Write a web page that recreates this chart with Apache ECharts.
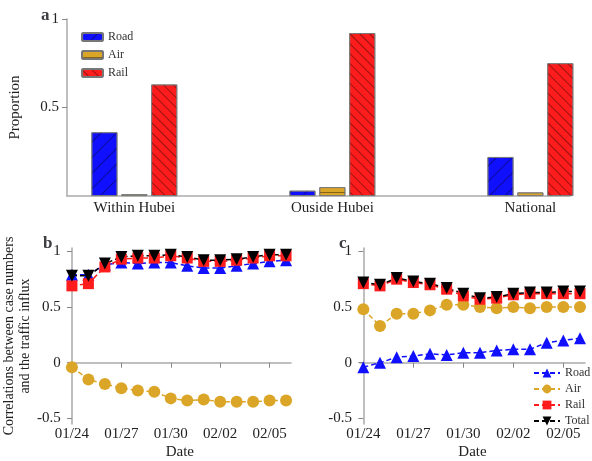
<!DOCTYPE html>
<html><head><meta charset="utf-8">
<script src="https://cdn.jsdelivr.net/npm/echarts@6/dist/echarts.min.js"></script>
<style>body{margin:0}#c{width:592px;height:461px}</style>
</head><body><div id="c"></div>
<script>
var regions = ['Within Hubei', 'Ouside Hubei', 'National'];
var shareRoad = [0.36, 0.03, 0.22];
var shareAir = [0.01, 0.05, 0.02];
var shareRail = [0.63, 0.92, 0.75];

var dates = ['01/24','01/25','01/26','01/27','01/28','01/29','01/30','01/31','02/01','02/02','02/03','02/04','02/05','02/06'];
var hbRoad = [0.79,0.79,0.88,0.90,0.89,0.90,0.90,0.87,0.85,0.85,0.87,0.89,0.91,0.92];
var hbAir = [-0.04,-0.15,-0.19,-0.23,-0.25,-0.26,-0.32,-0.34,-0.33,-0.35,-0.35,-0.35,-0.34,-0.34];
var hbRail = [0.69,0.71,0.86,0.93,0.94,0.94,0.96,0.94,0.91,0.91,0.92,0.94,0.96,0.96];
var hbTotal = [0.78,0.78,0.89,0.95,0.96,0.96,0.97,0.95,0.92,0.92,0.93,0.95,0.97,0.97];
var naRoad = [-0.04,0.00,0.05,0.06,0.08,0.07,0.09,0.09,0.11,0.12,0.12,0.18,0.20,0.22];
var naAir = [0.48,0.33,0.44,0.44,0.47,0.52,0.52,0.50,0.49,0.50,0.49,0.50,0.50,0.50];
var naRail = [0.71,0.69,0.75,0.72,0.70,0.66,0.60,0.57,0.58,0.61,0.62,0.62,0.62,0.62];
var naTotal = [0.72,0.70,0.76,0.73,0.71,0.67,0.62,0.58,0.59,0.62,0.63,0.63,0.64,0.64];

var font = 'Liberation Serif';
var blue = '#1010ff', gold = '#dba628', red = '#ff1c1c';

function pairs(arr) { return arr.map(function (v, i) { return [i, v]; }); }

function hatch(rot, gap) {
    return { symbol: 'rect', symbolSize: 1, dashArrayX: [1, 0], dashArrayY: [1, gap], rotation: rot, color: 'rgba(0,0,0,0.4)' };
}

var axisLine = { lineStyle: { color: '#aaa', width: 1.5 } };
var yCorr = {
    type: 'value', min: -0.55, max: 1.03,
    axisLine: { show: true, lineStyle: { color: '#aaa', width: 1.5 } },
    axisTick: { show: true, customValues: [-0.5, 0, 0.5, 1], lineStyle: { color: '#888' } },
    axisLabel: { customValues: [-0.5, 0, 0.5, 1], color: '#222', fontFamily: font, fontSize: 15 },
    splitLine: { show: false }
};
function xDate(idx) {
    return {
        type: 'value', gridIndex: idx, min: -0.2, max: 13.3,
        name: 'Date', nameLocation: 'middle', nameGap: 21,
        nameTextStyle: { color: '#222', fontFamily: font, fontSize: 15 },
        axisLine: axisLine,
        axisTick: { customValues: [0, 3, 6, 9, 12], lineStyle: { color: '#888' } },
        axisLabel: { customValues: [0, 3, 6, 9, 12], color: '#222', fontFamily: font, fontSize: 15, margin: 3,
            formatter: function (v) { return dates[v]; } },
        splitLine: { show: false }
    };
}
function line(name, data, color, sym, g, rot) {
    return {
        name: name, type: 'line', xAxisIndex: g, yAxisIndex: g, data: pairs(data),
        symbol: sym, symbolSize: sym === 'rect' ? 11 : 12, symbolRotate: rot || 0,
        lineStyle: { color: color, type: [5, 3], width: 1.5 },
        itemStyle: { color: color }
    };
}
function bar(name, data, color, decal) {
    return {
        name: name, type: 'bar', xAxisIndex: 0, yAxisIndex: 0, barWidth: 26, barGap: '15%',
        data: data.map(function (v, i) { return [i + 1, v]; }),
        itemStyle: { color: color, borderColor: '#777', borderWidth: 0.8, decal: decal }
    };
}

var chart = echarts.init(document.getElementById('c'));
chart.setOption({
    animation: false,
    textStyle: { fontFamily: font },
    title: [
        { text: 'a', left: 36, top: 2, textStyle: { fontFamily: font, fontSize: 17, fontWeight: 'bold' } },
        { text: 'b', left: 38, top: 230, textStyle: { fontFamily: font, fontSize: 17, fontWeight: 'bold' } },
        { text: 'c', left: 334, top: 230, textStyle: { fontFamily: font, fontSize: 17, fontWeight: 'bold' } }
    ],
    grid: [
        { left: 67, right: 22, top: 19, bottom: 265 },
        { left: 67, right: 301, top: 248, bottom: 37 },
        { left: 360, right: 7, top: 248, bottom: 37 }
    ],
    legend: [
        { data: ['Road', 'Air', 'Rail'], orient: 'vertical', left: 76, top: 26, itemWidth: 21, itemHeight: 8, itemGap: 6,
          textStyle: { fontFamily: font, fontSize: 12, color: '#333' } },
        { data: ['Road ', 'Air ', 'Rail ', 'Total'], orient: 'vertical', left: 528, top: 362, itemWidth: 26, itemHeight: 11, itemGap: 4,
          textStyle: { fontFamily: font, fontSize: 12, color: '#333' } }
    ],
    xAxis: [
        { type: 'value', gridIndex: 0, min: 0.66, max: 3.2,
          axisLine: axisLine, axisTick: { show: false },
          axisLabel: { customValues: [1, 2, 3], color: '#222', fontFamily: font, fontSize: 15, margin: 5,
              formatter: function (v) { return regions[v - 1]; } },
          splitLine: { show: false } },
        xDate(1), xDate(2)
    ],
    yAxis: [
        { type: 'value', gridIndex: 0, min: 0, max: 1,
          name: 'Proportion', nameLocation: 'middle', nameGap: 44,
          nameTextStyle: { color: '#222', fontFamily: font, fontSize: 15 },
          axisLine: { show: true, lineStyle: { color: '#aaa', width: 1.5 } },
          axisTick: { show: true, customValues: [0.5, 1], lineStyle: { color: '#888' } },
          axisLabel: { customValues: [0.5, 1], color: '#222', fontFamily: font, fontSize: 15 },
          splitLine: { show: false } },
        Object.assign({}, yCorr, { gridIndex: 1, name: 'Correlations between case numbers\nand the traffic influx',
            nameLocation: 'middle', nameGap: 32, nameTextStyle: { color: '#222', fontFamily: font, fontSize: 14, lineHeight: 16 } }),
        Object.assign({}, yCorr, { gridIndex: 2 })
    ],
    series: [
        bar('Road', shareRoad, blue, hatch(-Math.PI / 4, 10)),
        bar('Air', shareAir, gold, hatch(0, 5)),
        bar('Rail', shareRail, red, hatch(Math.PI / 4, 6)),
        line('Air', hbAir, gold, 'circle', 1),
        line('Road', hbRoad, blue, 'triangle', 1),
        line('Rail', hbRail, red, 'rect', 1),
        line('Total', hbTotal, '#000', 'triangle', 1, 180),
        line('Road ', naRoad, blue, 'triangle', 2),
        line('Air ', naAir, gold, 'circle', 2),
        line('Rail ', naRail, red, 'rect', 2),
        line('Total', naTotal, '#000', 'triangle', 2, 180)
    ]
});
</script>
</body></html>
